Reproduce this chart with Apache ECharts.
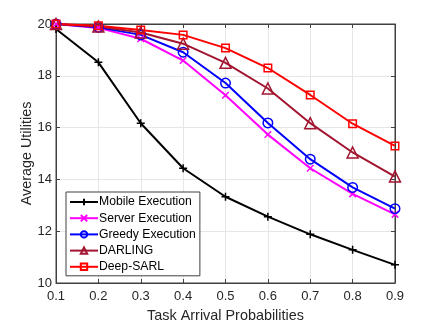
<!DOCTYPE html>
<html>
<head>
<meta charset="utf-8">
<script src="https://cdn.jsdelivr.net/npm/echarts@6/dist/echarts.min.js"></script>
<style>
  html, body { margin: 0; padding: 0; background: #fff; }
  #chart { width: 437px; height: 328px; }
</style>
</head>
<body>
<div id="chart"></div>
<script>
// task arrival probabilities
const probs = ['0.1', '0.2', '0.3', '0.4', '0.5', '0.6', '0.7', '0.8', '0.9'];
const yTicks = [10, 12, 14, 16, 18, 20];

const mobile = [19.81, 18.52, 16.17, 14.43, 13.33, 12.56, 11.88, 11.28, 10.7];
const server = [20.0, 19.85, 19.43, 18.59, 17.25, 15.73, 14.43, 13.44, 12.65];
const greedy = [20.0, 19.87, 19.58, 18.91, 17.72, 16.18, 14.78, 13.69, 12.87];
const darling = [20.0, 19.9, 19.67, 19.24, 18.5, 17.51, 16.17, 15.04, 14.11];
const deepSarl = [20.0, 19.93, 19.77, 19.58, 19.07, 18.3, 17.26, 16.15, 15.29];

const font = 'Liberation Sans, Arial, Helvetica, sans-serif';
const ink = '#262626';
const axisInk = '#404040';

const plusPath = 'path://M0,-5L0,5M-5,0L5,0';
const crossPath = 'path://M-5,-5L5,5M-5,5L5,-5';

function mk(name, data, color, symbol, size) {
  return {
    name: name,
    type: 'line',
    data: data,
    symbol: symbol,
    symbolSize: size,
    lineStyle: { color: color, width: 2 },
    itemStyle: { color: 'rgba(255,255,255,0)', borderColor: color, borderWidth: 1.5 },
    emphasis: { disabled: true },
    z: 3
  };
}

const chart = echarts.init(document.getElementById('chart'));
chart.setOption({
  animation: false,
  backgroundColor: '#fff',
  grid: { left: 56, right: 42, top: 24, bottom: 42, show: true, borderColor: axisInk, borderWidth: 1 },
  legend: {
    orient: 'vertical',
    left: 66,
    top: 192,
    itemWidth: 28,
    itemHeight: 8,
    itemGap: 4.2,
    padding: [4, 4, 3, 3],
    backgroundColor: '#fff',
    borderColor: axisInk,
    borderWidth: 1,
    textStyle: { fontFamily: font, fontSize: 12.2, color: '#000', padding: [0, 0, 0, -4] },
    data: ['Mobile Execution', 'Server Execution', 'Greedy Execution', 'DARLING', 'Deep-SARL']
  },
  xAxis: [{
    type: 'category',
    data: probs,
    boundaryGap: false,
    name: 'Task Arrival Probabilities',
    nameLocation: 'middle',
    nameGap: 26,
    nameMoveOverlap: false,
    nameTextStyle: { fontFamily: font, fontSize: 14.4, color: ink },
    axisLine: { lineStyle: { color: axisInk } },
    axisTick: { inside: true, length: 4, lineStyle: { color: axisInk } },
    axisLabel: { fontFamily: font, fontSize: 13, color: ink, margin: 7 },
    splitLine: { show: true, lineStyle: { color: '#e6e6e6' } }
  }, {
    type: 'category',
    data: probs,
    boundaryGap: false,
    position: 'top',
    axisLine: { lineStyle: { color: axisInk } },
    axisTick: { inside: true, length: 4, lineStyle: { color: axisInk } },
    axisLabel: { show: false }
  }],
  yAxis: [{
    type: 'value',
    min: yTicks[0],
    max: yTicks[yTicks.length - 1],
    interval: 2,
    name: 'Average Utilities',
    nameLocation: 'middle',
    nameGap: 22,
    nameMoveOverlap: false,
    nameTextStyle: { fontFamily: font, fontSize: 14.4, color: ink },
    axisLine: { show: true, lineStyle: { color: axisInk } },
    axisTick: { show: true, inside: true, length: 4, lineStyle: { color: axisInk } },
    axisLabel: { fontFamily: font, fontSize: 13, color: ink, margin: 4 },
    splitLine: { show: true, lineStyle: { color: '#e6e6e6' } }
  }, {
    type: 'value',
    min: yTicks[0],
    max: yTicks[yTicks.length - 1],
    interval: 2,
    position: 'right',
    axisLine: { show: true, lineStyle: { color: axisInk } },
    axisTick: { show: true, inside: true, length: 4, lineStyle: { color: axisInk } },
    axisLabel: { show: false },
    splitLine: { show: false }
  }],
  series: [
    mk('Mobile Execution', mobile, '#000000', plusPath, 8),
    mk('Server Execution', server, '#ff00ff', crossPath, 6.5),
    mk('Greedy Execution', greedy, '#0000ff', 'circle', 9.5),
    mk('DARLING', darling, '#a2142f', 'triangle', 11),
    mk('Deep-SARL', deepSarl, '#ff0000', 'rect', 7.5)
  ]
});
</script>
</body>
</html>
